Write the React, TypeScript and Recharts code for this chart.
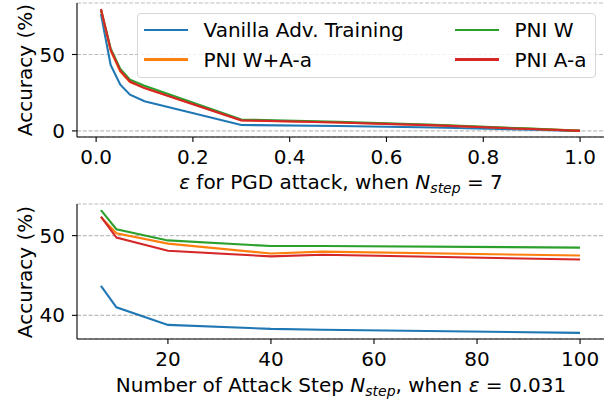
import React from "react";
import { LineChart, Line, XAxis, YAxis, CartesianGrid } from "recharts";

const SERIES = [
  { key: "vanilla", name: "Vanilla Adv. Training", color: "#1f77b4" },
  { key: "pniWA", name: "PNI W+A-a", color: "#ff7f0e" },
  { key: "pniW", name: "PNI W", color: "#2ca02c" },
  { key: "pniA", name: "PNI A-a", color: "#d62728" },
];

// top panel: accuracy vs epsilon, N_step = 7
const EPS = [0.01, 0.03, 0.05, 0.07, 0.1, 0.3, 0.5, 0.7, 0.9, 1.0];
const EPS_VANILLA = [76.5, 43.1, 30.2, 23.7, 19.4, 3.9, 3.2, 2.2, 0.8, 0.0];
const EPS_PNI_WA = [79.2, 52.5, 38.8, 32.0, 28.0, 7.0, 5.5, 3.8, 1.3, 0.2];
const EPS_PNI_W = [79.5, 54.0, 40.5, 33.5, 29.5, 7.5, 6.0, 4.0, 1.5, 0.0];
const EPS_PNI_A = [79.7, 53.2, 39.4, 32.3, 28.0, 6.9, 5.5, 3.6, 1.2, 0.0];

// bottom panel: accuracy vs number of steps, eps = 0.031
const STEPS = [7, 10, 20, 40, 50, 100];
const STEP_VANILLA = [43.7, 41.0, 38.8, 38.3, 38.2, 37.8];
const STEP_PNI_WA = [52.3, 50.3, 49.0, 47.75, 48.0, 47.5];
const STEP_PNI_W = [53.2, 50.8, 49.4, 48.7, 48.7, 48.5];
const STEP_PNI_A = [52.4, 49.75, 48.1, 47.4, 47.6, 47.0];

const EPS_TICKS = [0, 0.2, 0.4, 0.6, 0.8, 1.0];
const TOP_ACC_TICKS = [0, 50];
const STEP_TICKS = [20, 40, 60, 80, 100];
const BOTTOM_ACC_TICKS = [40, 50];

const FONT = "'DejaVu Sans', sans-serif";
const FS = 20;

const epsData = EPS.map((x, i) => ({
  x,
  vanilla: EPS_VANILLA[i],
  pniWA: EPS_PNI_WA[i],
  pniW: EPS_PNI_W[i],
  pniA: EPS_PNI_A[i],
}));

const stepData = STEPS.map((x, i) => ({
  x,
  vanilla: STEP_VANILLA[i],
  pniWA: STEP_PNI_WA[i],
  pniW: STEP_PNI_W[i],
  pniA: STEP_PNI_A[i],
}));

// matplotlib-style 5% margins
function pad(vals: number[]): [number, number] {
  const lo = Math.min(...vals);
  const hi = Math.max(...vals);
  const m = (hi - lo) * 0.05;
  return [lo - m, hi + m];
}

const tickStyle = { fill: "#000", fontSize: FS, fontFamily: FONT };

function Panel({ data, xDomain, yDomain, xTicks, yTicks, xFmt, height, marginTop, xAxisHeight }: any) {
  return (
    <LineChart
      width={609}
      height={height}
      data={data}
      margin={{ top: marginTop, right: 5, bottom: 0, left: 0 }}
    >
      <CartesianGrid vertical={false} stroke="#bdbdbd" strokeDasharray="4 1.8" strokeWidth={1.1} />
      <XAxis
        dataKey="x"
        type="number"
        domain={xDomain}
        allowDataOverflow
        ticks={xTicks}
        tickFormatter={xFmt}
        height={xAxisHeight}
        tickSize={5}
        tickMargin={8}
        tick={tickStyle}
        stroke="#000"
        strokeWidth={1.1}
        interval={0}
      />
      <XAxis xAxisId="top" orientation="top" type="number" domain={[0, 1]} height={0} tick={false} tickLine={false} stroke="#000" strokeWidth={1.1} />
      <YAxis
        type="number"
        domain={yDomain}
        allowDataOverflow
        ticks={yTicks}
        width={77}
        tickSize={5}
        tickMargin={7}
        tick={tickStyle}
        stroke="#000"
        strokeWidth={1.1}
        interval={0}
      />
      <YAxis yAxisId="r" orientation="right" type="number" domain={[0, 1]} width={0} tick={false} tickLine={false} stroke="#000" strokeWidth={1.1} />
      {SERIES.map((s) => (
        <Line
          key={s.key}
          type="linear"
          dataKey={s.key}
          name={s.name}
          stroke={s.color}
          strokeWidth={2.1}
          dot={false}
          isAnimationActive={false}
        />
      ))}
    </LineChart>
  );
}

function YLabel({ cy }: { cy: number }) {
  return (
    <div
      style={{
        position: "absolute",
        left: 25,
        top: cy,
        transform: "translate(-50%, -50%) rotate(-90deg)",
        whiteSpace: "nowrap",
        fontFamily: FONT,
        fontSize: FS,
        lineHeight: 1,
      }}
    >
      Accuracy (%)
    </div>
  );
}

const sub = { fontSize: "0.7em", verticalAlign: "-0.3em", lineHeight: 0 } as const;

function Legend() {
  const cols = [
    [SERIES[0], SERIES[1]],
    [SERIES[2], SERIES[3]],
  ];
  return (
    <div
      style={{
        position: "absolute",
        left: 137,
        top: 13,
        width: 459,
        height: 65,
        boxSizing: "border-box",
        border: "1px solid #d6d6d6",
        borderRadius: 4,
        background: "rgba(255,255,255,0.8)",
        fontFamily: FONT,
        fontSize: FS,
      }}
    >
      {cols.map((col, ci) =>
        col.map((s, ri) => (
          <div
            key={s.key}
            style={{
              position: "absolute",
              left: ci === 0 ? 6 : 317,
              top: ri === 0 ? 16 : 45.5,
              height: 0,
              display: "flex",
              alignItems: "center",
              whiteSpace: "nowrap",
            }}
          >
            <div style={{ width: 43.5, height: 2.3, background: s.color }} />
            <span style={{ marginLeft: 16, lineHeight: 1 }}>{s.name}</span>
          </div>
        ))
      )}
    </div>
  );
}

export default function App() {
  return (
    <div style={{ position: "absolute", left: 0, top: 0, width: 609, height: 399, background: "#fff" }}>
      <div style={{ position: "absolute", left: 0, top: 0 }}>
        <Panel
          data={epsData}
          xDomain={pad(EPS)}
          yDomain={pad([...EPS_VANILLA, ...EPS_PNI_WA, ...EPS_PNI_W, ...EPS_PNI_A])}
          xTicks={EPS_TICKS}
          yTicks={TOP_ACC_TICKS}
          xFmt={(v: number) => v.toFixed(1)}
          height={200}
          marginTop={3}
          xAxisHeight={63}
        />
      </div>
      <div style={{ position: "absolute", left: 0, top: 0 }}>
        <Panel
          data={stepData}
          xDomain={pad(STEPS)}
          yDomain={pad([...STEP_VANILLA, ...STEP_PNI_WA, ...STEP_PNI_W, ...STEP_PNI_A])}
          xTicks={STEP_TICKS}
          yTicks={BOTTOM_ACC_TICKS}
          xFmt={(v: number) => String(v)}
          height={399}
          marginTop={204}
          xAxisHeight={60}
        />
      </div>
      <Legend />
      <YLabel cy={70} />
      <YLabel cy={272} />
      <div
        style={{
          position: "absolute",
          left: 341,
          top: 172,
          transform: "translateX(-50%)",
          whiteSpace: "nowrap",
          fontFamily: FONT,
          fontSize: FS,
          lineHeight: 1,
        }}
      >
        <i>ε</i> for PGD attack, when <i>N</i>
        <sub style={sub}>
          <i>step</i>
        </sub>{" "}
        = 7
      </div>
      <div
        style={{
          position: "absolute",
          left: 341,
          top: 375,
          transform: "translateX(-50%)",
          whiteSpace: "nowrap",
          fontFamily: FONT,
          fontSize: FS,
          lineHeight: 1,
        }}
      >
        Number of Attack Step <i>N</i>
        <sub style={sub}>
          <i>step</i>
        </sub>
        , when <i>ε</i> = 0.031
      </div>
    </div>
  );
}
